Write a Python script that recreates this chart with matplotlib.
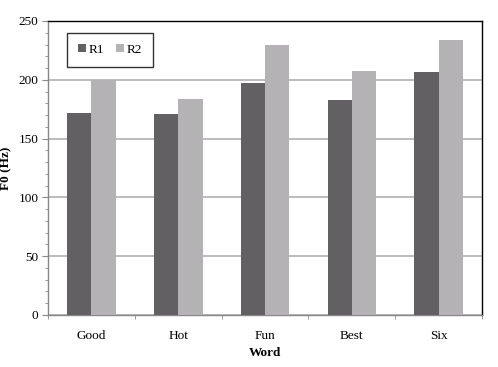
import numpy as np
import matplotlib
matplotlib.use('Agg')
import matplotlib.pyplot as plt
from matplotlib.ticker import MultipleLocator

plt.rcParams['font.family'] = ['Liberation Serif', 'DejaVu Serif']

words = ['Good', 'Hot', 'Fun', 'Best', 'Six']
r1 = [171.5, 170.6, 197.0, 182.8, 206.6]
r2 = [200.0, 183.4, 229.6, 207.5, 234.1]

fig = plt.figure(figsize=(4.98, 3.67), dpi=100)
ax = fig.add_axes([0.0964, 0.1417, 0.8716, 0.8011])

x = np.arange(len(words))
w = 0.28
ax.bar(x - w/2, r1, w, color='#636064', label='R1', zorder=3)
ax.bar(x + w/2, r2, w, color='#b4b2b5', label='R2', zorder=3)

ax.set_xlim(-0.5, len(words) - 0.5)
ax.set_ylim(0, 250)
ax.yaxis.set_major_locator(MultipleLocator(50))
ax.yaxis.set_minor_locator(MultipleLocator(10))
ax.grid(axis='y', color='#b0b0b0', linewidth=1.2, zorder=0)

ax.set_xticks(x)
ax.set_xticklabels(words, fontsize=9.5)
ax.set_xticks(np.arange(len(words) + 1) - 0.5, minor=True)
ax.tick_params(axis='x', which='major', length=0, pad=11)
ax.tick_params(axis='x', which='minor', length=3, color='#888888', direction='out')
ax.tick_params(axis='y', which='major', length=4, color='#888888', labelsize=9.5, pad=3)
ax.tick_params(axis='y', which='minor', length=2, color='#888888')

for s in ['top', 'right']:
    ax.spines[s].set_color('black')
    ax.spines[s].set_linewidth(1.0)
for s in ['left', 'bottom']:
    ax.spines[s].set_color('#888888')
    ax.spines[s].set_linewidth(1.0)

ax.set_xlabel('Word', fontsize=9.5, fontweight='bold')
ax.xaxis.set_label_coords(0.5, -0.108)
ax.set_ylabel('F0 (Hz)', fontsize=9.5, fontweight='bold')
ax.yaxis.set_label_coords(-0.083, 0.5)

leg = ax.legend(loc='upper left', bbox_to_anchor=(0.044, 0.96), ncol=2,
                fontsize=9.5, frameon=True, fancybox=False, edgecolor='black',
                handlelength=0.55, handleheight=0.55, handletextpad=0.25,
                columnspacing=0.9, borderpad=0.85, borderaxespad=0)
leg.get_frame().set_linewidth(1.0)

fig.savefig('out.png', dpi=100)
